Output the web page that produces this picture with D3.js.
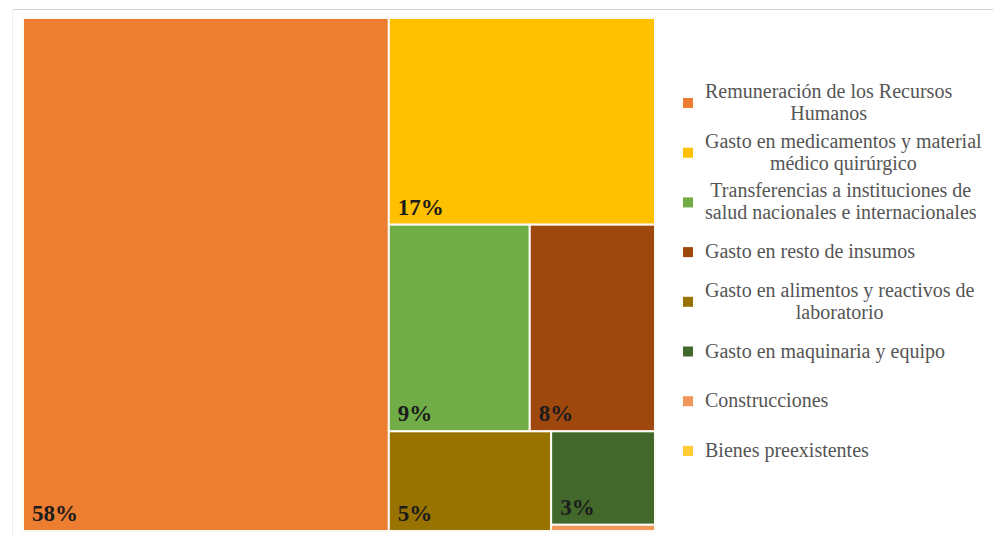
<!DOCTYPE html>
<html lang="es">
<head>
<meta charset="utf-8">
<script src="https://cdn.jsdelivr.net/npm/d3@7/dist/d3.min.js"></script>
<style>
  html, body { margin: 0; padding: 0; background: #ffffff; }
  svg { display: block; }
</style>
</head>
<body>
<svg id="chart" width="993" height="537"></svg>
<script>
// Budget shares by spending category (percent of total)
const categories = [
  ["Remuneración de los Recursos", "Humanos"],
  ["Gasto en medicamentos y material", "médico quirúrgico"],
  ["Transferencias a instituciones de", "salud nacionales e internacionales"],
  ["Gasto en resto de insumos"],
  ["Gasto en alimentos y reactivos de", "laboratorio"],
  ["Gasto en maquinaria y equipo"],
  ["Construcciones"],
  ["Bienes preexistentes"]
];
const shares = [58, 17, 9, 8, 5, 3, 0.2, 0];
const colors = ["#ED7D31", "#FFC000", "#70AD47", "#9E480E", "#997300", "#43682B", "#F1975A", "#FFCD33"];

const svg = d3.select("#chart");
const W = 993, H = 537;

// light frame lines
svg.append("line").attr("x1", 12).attr("x2", W).attr("y1", 9.5).attr("y2", 9.5)
  .attr("stroke", "#cfd3d6").attr("stroke-width", 1);
svg.append("line").attr("x1", 12.5).attr("x2", 12.5).attr("y1", 9).attr("y2", H)
  .attr("stroke", "#eceeef").attr("stroke-width", 1);

const plot = { x0: 23, y0: 18, x1: 655, y1: 531 };

// Squarified rows; near-square regions are split with a row across the top.
function worstRatio(vals, sum, side, scale) {
  const t = sum * scale / side;
  let w = 0;
  vals.forEach(v => {
    const len = v * scale / t;
    w = Math.max(w, len / t, t / len);
  });
  return w;
}
function tileRows(parent, x0, y0, x1, y1) {
  const all = parent.children;
  all.filter(n => !(n.value > 0)).forEach(n => { n.x0 = n.x1 = x1; n.y0 = n.y1 = y1; });
  const nodes = all.filter(n => n.value > 0);
  let remaining = d3.sum(nodes, n => n.value);
  let i = 0;
  while (i < nodes.length) {
    const dx = x1 - x0, dy = y1 - y0;
    const across = dx < dy * 1.1;
    const side = across ? dx : dy;
    const scale = dx * dy / remaining;
    const row = [nodes[i]];
    let sum = nodes[i].value;
    let best = worstRatio([sum], sum, side, scale);
    let j = i + 1;
    while (j < nodes.length) {
      const s2 = sum + nodes[j].value;
      const w = worstRatio(row.map(n => n.value).concat(nodes[j].value), s2, side, scale);
      if (w > best) break;
      row.push(nodes[j]); sum = s2; best = w; j++;
    }
    const thick = (across ? dy : dx) * sum / remaining;
    let pos = across ? x0 : y0;
    row.forEach(n => {
      const len = side * n.value / sum;
      if (across) { n.x0 = pos; n.x1 = pos + len; n.y0 = y0; n.y1 = y0 + thick; }
      else { n.y0 = pos; n.y1 = pos + len; n.x0 = x0; n.x1 = x0 + thick; }
      pos += len;
    });
    if (across) y0 += thick; else x0 += thick;
    remaining -= sum;
    i = j;
  }
}

const root = d3.hierarchy({
  children: shares.map((v, i) => ({ name: categories[i].join(" "), value: v, idx: i }))
}).sum(d => d.value || 0);

d3.treemap()
  .tile(tileRows)
  .size([plot.x1 - plot.x0, plot.y1 - plot.y0])
  .round(false)(root);

const g = svg.append("g").attr("transform", `translate(${plot.x0},${plot.y0})`);
const leaves = g.selectAll("g.cell").data(root.leaves()).join("g").attr("class", "cell");

leaves.append("rect")
  .attr("x", d => d.x0).attr("y", d => d.y0)
  .attr("width", d => Math.max(0, d.x1 - d.x0))
  .attr("height", d => Math.max(0, d.y1 - d.y0))
  .attr("fill", d => colors[d.data.idx])
  .attr("stroke", "#fdfaf3").attr("stroke-width", 2);

leaves.filter(d => d.data.value >= 1).append("text")
  .attr("x", d => d.x0 + 9)
  .attr("y", d => d.y1 - 10)
  .attr("font-family", "'Liberation Serif', 'Times New Roman', serif")
  .attr("font-weight", "bold")
  .attr("font-size", 23)
  .attr("fill", "#1c1c1c")
  .text(d => d3.format("d")(d.data.value) + "%");

// Legend
const legend = svg.append("g");
const legTop = 102, legStep = 49.7, textX = 705, lineGap = 22;
categories.forEach((lines, i) => {
  const cy = legTop + i * legStep;
  const item = legend.append("g");
  item.append("rect")
    .attr("x", 683).attr("y", cy - 4).attr("width", 10).attr("height", 10)
    .attr("fill", colors[i]);
  const texts = lines.map((t, k) => item.append("text")
    .attr("y", cy + (k - (lines.length - 1) / 2) * lineGap)
    .attr("dy", "0.35em")
    .attr("font-family", "'Liberation Serif', 'Times New Roman', serif")
    .attr("font-size", 20)
    .attr("fill", "#555555")
    .text(t));
  if (lines.length > 1) {
    const wMax = d3.max(texts, t => t.node().getComputedTextLength());
    texts.forEach(t => t.attr("x", textX + wMax / 2).attr("text-anchor", "middle"));
  } else {
    texts.forEach(t => t.attr("x", textX));
  }
});
</script>
</body>
</html>
